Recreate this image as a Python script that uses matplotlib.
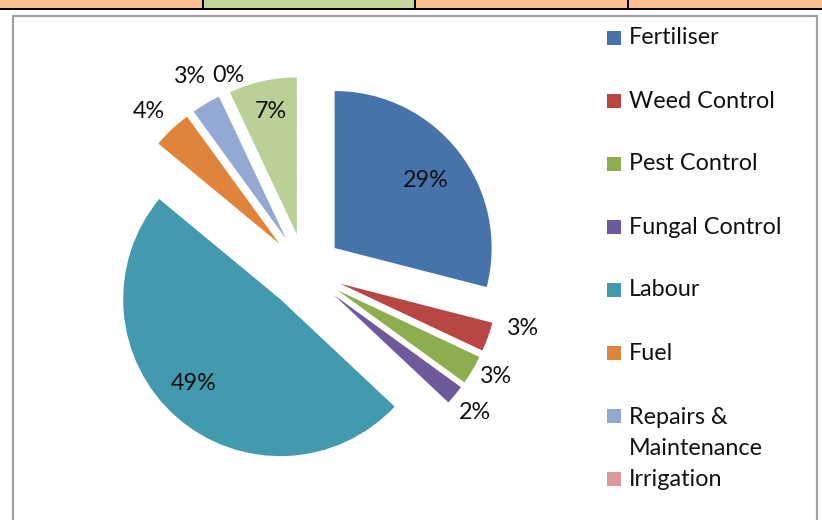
import matplotlib
matplotlib.use("Agg")
import matplotlib.pyplot as plt
from matplotlib.patches import Rectangle
import numpy as np

categories = ["Fertiliser", "Weed Control", "Pest Control", "Fungal Control",
              "Labour", "Fuel", "Repairs &\nMaintenance", "Irrigation", "Other"]
values = [29, 3, 3, 2, 49, 4, 3, 0, 7]
colors = ["#4674AA", "#B84744", "#8CAE4E", "#70599A", "#4399AE",
          "#E0843C", "#93A9D3", "#D89A9A", "#B9D096"]
legend_count = 8

# label placement (style): distance from wedge apex as fraction of radius, angle offset in degrees
lab_dist = [0.72, 1.2, 1.15, 1.17, 0.77, 1.18, 1.2, 1.1, 0.80]
lab_dang = [-1.4, 6, 2, -0.4, -4.6, 1.4, 0, -4.5, -0.6]

plt.rcParams['font.family'] = ['Lato', 'DejaVu Sans']
FS = 16.8
W, H = 822, 520
fig = plt.figure(figsize=(W / 100, H / 100), dpi=100)
ax = fig.add_axes([0, 0, 1, 1])

R = 157
wedges, texts, autotexts = ax.pie(
    values, explode=[37.5] * len(values), colors=colors, startangle=90,
    counterclock=False, center=(305, 249), radius=R,
    autopct='%1.0f%%', wedgeprops=dict(linewidth=0),
    textprops=dict(fontsize=FS, color='#111111'))

for w, t, d, da in zip(wedges, autotexts, lab_dist, lab_dang):
    mid = np.deg2rad((w.theta1 + w.theta2) / 2 + da)
    cx, cy = w.center
    t.set_position((cx + d * w.r * np.cos(mid), cy + d * w.r * np.sin(mid)))
    t.set_ha('center')
    t.set_va('center')

ax.set_xlim(0, W)
ax.set_ylim(0, H)
ax.set_aspect('equal')
ax.axis('off')

# manual legend
for i in range(legend_count):
    yc = H - (38 + 63 * i)
    ax.add_patch(Rectangle((607, yc - 7), 14, 14, facecolor=colors[i], lw=0))
    lab = categories[i]
    if "\n" in lab:
        ax.text(629, yc + 9.0, lab, fontsize=FS, va='top', ha='left',
                color='#111111', linespacing=1.6)
    else:
        ax.text(629, yc, lab, fontsize=FS, va='center', ha='left', color='#111111')

# decorative table strip and chart frame
ax.add_patch(Rectangle((0, H - 7.5), W, 7.5, facecolor='#FAC090', lw=0, clip_on=False))
ax.add_patch(Rectangle((203, H - 7.5), 212, 7.5, facecolor='#C4D79B', lw=0, clip_on=False))
ax.add_patch(Rectangle((0, H - 10), W, 2.5, facecolor='#000000', lw=0, clip_on=False))
for xv in [203, 415, 628]:
    ax.add_patch(Rectangle((xv - 1, H - 10), 2, 10, facecolor='#000000', lw=0, clip_on=False))
ax.add_patch(Rectangle((12.5, -10), 804.5, H - 15.5 + 10, fill=False,
                       edgecolor='#A0A0A0', lw=1.6, clip_on=False))

fig.savefig("out.png", dpi=100)
